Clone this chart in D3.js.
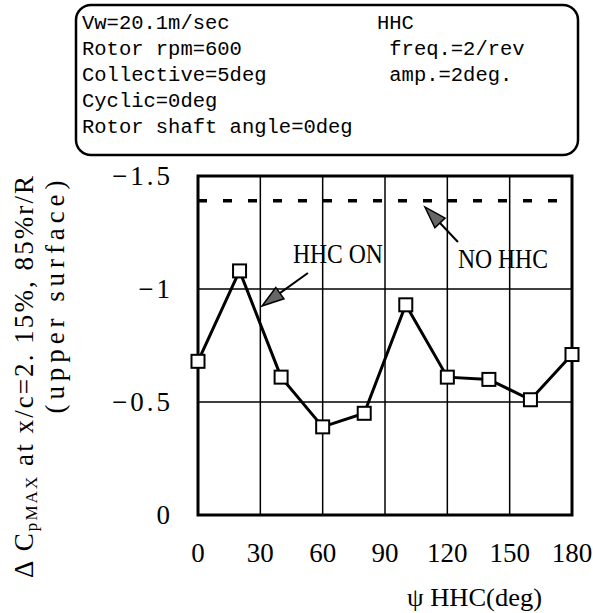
<!DOCTYPE html>
<html>
<head>
<meta charset="utf-8">
<script src="https://cdn.jsdelivr.net/npm/d3@7"></script>
<style>
  body { margin: 0; background: #fff; }
  text { fill: #000; }
</style>
</head>
<body>
<script>
var WIDTH = 593,
    HEIGHT = 613;

// data
var psiDeg = [0, 20, 40, 60, 80, 100, 120, 140, 160, 180];
var dCpOn = [-0.68, -1.08, -0.61, -0.39, -0.45, -0.93, -0.61, -0.60, -0.51, -0.71];
var dCpNoHhc = -1.39;
var noHhcSpan = [0, 175];
var xTicks = [0, 30, 60, 90, 120, 150, 180];
var yTicks = [0, -0.5, -1, -1.5];
var yTickLabels = ['0', '\u22120.5', '\u22121', '\u22121.5'];
var boxLeft = ['Vw=20.1m/sec', 'Rotor rpm=600', 'Collective=5deg', 'Cyclic=0deg', 'Rotor shaft angle=0deg'];
var boxRight = ['HHC', ' freq.=2/rev', ' amp.=2deg.'];
// annotations in data units: text anchor and arrow [from, to]
var notes = [
    { label: 'HHC ON', at: [45.7, -1.115], len: 90, from: [52.9, -1.071], to: [30.8, -0.925] },
    { label: 'NO HHC', at: [125.1, -1.093], len: 90, from: [125.1, -1.208], to: [109.2, -1.363] }
];

var SERIF = '"Liberation Serif", "Times New Roman", serif',
    MONO = '"Liberation Mono", monospace';

document.addEventListener('DOMContentLoaded', function() {
    var svg = d3.select('body').append('svg')
        .attr('width', WIDTH)
        .attr('height', HEIGHT);

    drawBox(svg);
    drawChart(svg);
});

function drawBox(svg) {
    svg.append('rect')
        .attr('x', 76).attr('y', 5)
        .attr('width', 502).attr('height', 150)
        .attr('rx', 15)
        .attr('fill', 'none')
        .attr('stroke', '#000')
        .attr('stroke-width', 2.5);

    svg.selectAll('text.boxl')
        .data(boxLeft)
        .enter().append('text')
        .attr('class', 'boxl')
        .attr('x', 82)
        .attr('y', (d, i) => 29 + i * 26)
        .attr('font-family', MONO)
        .attr('font-size', 20.5)
        .attr('xml:space', 'preserve')
        .text(d => d);

    svg.selectAll('text.boxr')
        .data(boxRight)
        .enter().append('text')
        .attr('class', 'boxr')
        .attr('x', 377)
        .attr('y', (d, i) => 29 + i * 26)
        .attr('font-family', MONO)
        .attr('font-size', 20.5)
        .attr('xml:space', 'preserve')
        .text(d => d);
}

function drawChart(svg) {
    var x = d3.scaleLinear().domain([0, 180]).range([198, 572]);
    var y = d3.scaleLinear().domain([0, -1.5]).range([515, 176]);

    var g = svg.append('g');

    // grid
    g.selectAll('line.vgrid')
        .data(xTicks.slice(1, -1))
        .enter().append('line')
        .attr('x1', d => x(d)).attr('x2', d => x(d))
        .attr('y1', y(0)).attr('y2', y(-1.5))
        .attr('stroke', '#000').attr('stroke-width', 1.5);

    g.selectAll('line.hgrid')
        .data([-0.5, -1])
        .enter().append('line')
        .attr('x1', x(0)).attr('x2', x(180))
        .attr('y1', d => y(d)).attr('y2', d => y(d))
        .attr('stroke', '#000').attr('stroke-width', 1.5);

    g.append('rect')
        .attr('x', x(0)).attr('y', y(-1.5))
        .attr('width', x(180) - x(0))
        .attr('height', y(0) - y(-1.5))
        .attr('fill', 'none')
        .attr('stroke', '#000')
        .attr('stroke-width', 3);

    // axis labels on ticks
    g.selectAll('text.xt')
        .data(xTicks)
        .enter().append('text')
        .attr('x', d => x(d))
        .attr('y', 562)
        .attr('text-anchor', 'middle')
        .attr('font-family', SERIF)
        .attr('font-size', 27)
        .text(d => d);

    g.selectAll('text.yt')
        .data(yTicks)
        .enter().append('text')
        .attr('x', 173)
        .attr('y', d => y(d) + 9)
        .attr('text-anchor', 'end')
        .attr('font-family', SERIF)
        .attr('font-size', 27)
        .attr('letter-spacing', 3)
        .text((d, i) => yTickLabels[i]);

    // NO HHC reference level
    g.append('line')
        .attr('x1', x(noHhcSpan[0])).attr('x2', x(noHhcSpan[1]))
        .attr('y1', y(dCpNoHhc)).attr('y2', y(dCpNoHhc))
        .attr('stroke', '#000')
        .attr('stroke-width', 3.5)
        .attr('stroke-dasharray', '9,16');

    // HHC ON curve
    var line = d3.line()
        .x((d, i) => x(psiDeg[i]))
        .y(d => y(d));

    g.append('path')
        .datum(dCpOn)
        .attr('d', line)
        .attr('fill', 'none')
        .attr('stroke', '#000')
        .attr('stroke-width', 3);

    var s = 13;
    g.selectAll('rect.pt')
        .data(dCpOn)
        .enter().append('rect')
        .attr('x', (d, i) => x(psiDeg[i]) - s / 2)
        .attr('y', d => y(d) - s / 2)
        .attr('width', s).attr('height', s)
        .attr('fill', '#fff')
        .attr('stroke', '#000')
        .attr('stroke-width', 2);

    // annotations
    notes.forEach(function(n) {
        g.append('text')
            .attr('x', x(n.at[0]))
            .attr('y', y(n.at[1]))
            .attr('font-family', SERIF)
            .attr('font-size', 28)
            .attr('textLength', n.len)
            .attr('lengthAdjust', 'spacingAndGlyphs')
            .attr('xml:space', 'preserve')
            .text(n.label);

        var x1 = x(n.from[0]), y1 = y(n.from[1]),
            x2 = x(n.to[0]), y2 = y(n.to[1]);
        var ang = Math.atan2(y2 - y1, x2 - x1),
            hl = 22, hw = 7;
        var bx = x2 - hl * Math.cos(ang), by = y2 - hl * Math.sin(ang);

        g.append('line')
            .attr('x1', x1).attr('y1', y1)
            .attr('x2', bx).attr('y2', by)
            .attr('stroke', '#000').attr('stroke-width', 2);

        g.append('path')
            .attr('d', 'M' + x2 + ',' + y2 +
                'L' + (bx + hw * Math.sin(ang)) + ',' + (by - hw * Math.cos(ang)) +
                'L' + (bx - hw * Math.sin(ang)) + ',' + (by + hw * Math.cos(ang)) + 'Z')
            .attr('fill', '#666')
            .attr('stroke', '#000')
            .attr('stroke-width', 1.5);
    });

    // x title
    var xt = svg.append('text')
        .attr('x', 407)
        .attr('y', 606)
        .attr('font-family', SERIF)
        .attr('font-size', 25)
        .attr('textLength', 135)
        .attr('lengthAdjust', 'spacingAndGlyphs');
    xt.append('tspan').text('\u03c8');
    xt.append('tspan').text(' HHC(deg)');

    // y title, two lines
    var yt = svg.append('text')
        .attr('transform', 'translate(33,377) rotate(-90)')
        .attr('text-anchor', 'middle')
        .attr('font-family', SERIF)
        .attr('font-size', 27)
        .attr('textLength', 402)
        .attr('lengthAdjust', 'spacing')
        .attr('xml:space', 'preserve');
    yt.append('tspan').text('\u0394 C');
    yt.append('tspan').attr('font-size', 17).attr('dy', 4).text('pMAX');
    yt.append('tspan').attr('dy', -4).text(' at x/c=2. 15%, 85%r/R');

    svg.append('text')
        .attr('transform', 'translate(64,297) rotate(-90)')
        .attr('text-anchor', 'middle')
        .attr('font-family', SERIF)
        .attr('font-size', 27)
        .attr('textLength', 233)
        .attr('lengthAdjust', 'spacing')
        .attr('xml:space', 'preserve')
        .text('(upper surface)');
}
</script>
</body>
</html>
